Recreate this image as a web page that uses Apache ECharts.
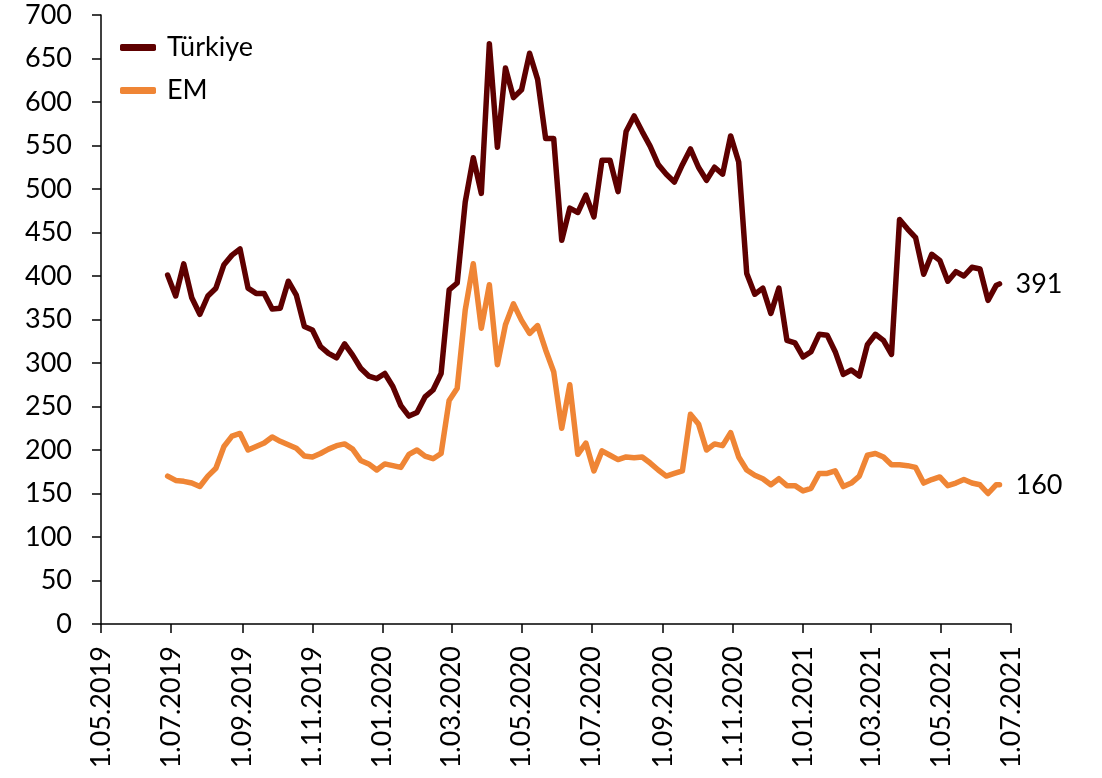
<!DOCTYPE html>
<html>
<head>
<meta charset="utf-8">
<script src="https://cdn.jsdelivr.net/npm/echarts@6/dist/echarts.min.js"></script>
<style>
html,body{margin:0;padding:0;background:#fff;}
#chart{width:1102px;height:778px;}
</style>
</head>
<body>
<div id="chart"></div>
<script>
const dates = [
'2019-06-28','2019-07-05','2019-07-12','2019-07-19','2019-07-26','2019-08-02','2019-08-09','2019-08-16','2019-08-23','2019-08-30',
'2019-09-06','2019-09-13','2019-09-20','2019-09-27','2019-10-04','2019-10-11','2019-10-18','2019-10-25','2019-11-01','2019-11-08',
'2019-11-15','2019-11-22','2019-11-29','2019-12-06','2019-12-13','2019-12-20','2019-12-27','2020-01-03','2020-01-10','2020-01-17',
'2020-01-24','2020-01-31','2020-02-07','2020-02-14','2020-02-21','2020-02-28','2020-03-06','2020-03-13','2020-03-20','2020-03-27',
'2020-04-03','2020-04-10','2020-04-17','2020-04-24','2020-05-01','2020-05-08','2020-05-15','2020-05-22','2020-05-29','2020-06-05',
'2020-06-12','2020-06-19','2020-06-26','2020-07-03','2020-07-10','2020-07-17','2020-07-24','2020-07-31','2020-08-07','2020-08-14',
'2020-08-21','2020-08-28','2020-09-04','2020-09-11','2020-09-18','2020-09-25','2020-10-02','2020-10-09','2020-10-16','2020-10-23',
'2020-10-30','2020-11-06','2020-11-13','2020-11-20','2020-11-27','2020-12-04','2020-12-11','2020-12-18','2020-12-25','2021-01-01',
'2021-01-08','2021-01-15','2021-01-22','2021-01-29','2021-02-05','2021-02-12','2021-02-19','2021-02-26','2021-03-05','2021-03-12',
'2021-03-19','2021-03-26','2021-04-02','2021-04-09','2021-04-16','2021-04-23','2021-04-30','2021-05-07','2021-05-14','2021-05-21',
'2021-05-28','2021-06-04','2021-06-11','2021-06-18','2021-06-21'
];
const turkiye = [
401,377,414,375,356,377,386,413,424,431,
386,380,380,362,363,394,378,342,338,319,
311,306,322,309,294,285,282,288,273,251,
239,243,261,269,288,384,392,485,536,495,
667,548,639,605,614,656,626,558,558,441,
478,473,493,468,533,533,497,566,584,566,
549,528,517,508,528,546,525,510,525,517,
561,531,403,379,386,357,386,326,323,307,
313,333,332,313,287,292,285,321,333,326,
310,465,454,444,402,425,418,394,405,400,
410,408,372,389,391
];
const em = [
170,165,164,162,158,170,179,204,216,219,
200,204,208,215,210,206,202,193,192,196,
201,205,207,201,188,184,177,184,182,180,
195,200,193,190,196,257,271,361,414,340,
390,298,344,368,349,334,343,315,290,225,
275,195,208,176,199,194,189,192,191,192,
185,177,170,173,176,241,230,200,207,205,
220,192,177,171,167,160,167,159,159,153,
156,173,173,176,158,162,170,194,196,192,
183,183,182,180,162,166,169,159,162,166,
162,160,150,160,160
];
const tickDates = ['2019-05-01','2019-07-01','2019-09-01','2019-11-01','2020-01-01','2020-03-01','2020-05-01','2020-07-01','2020-09-01','2020-11-01','2021-01-01','2021-03-01','2021-05-01','2021-07-01'];
const tickLabels = ['1.05.2019','1.07.2019','1.09.2019','1.11.2019','1.01.2020','1.03.2020','1.05.2020','1.07.2020','1.09.2020','1.11.2020','1.01.2021','1.03.2021','1.05.2021','1.07.2021'];
const seriesNames = ['Türkiye','EM'];
const colors = ['#5E0000','#EF8535'];

const toTs = s => { const p = s.split('-'); return Date.UTC(+p[0], +p[1]-1, +p[2]); };
const tickTs = tickDates.map(toTs);
const labelByTs = {};
tickTs.forEach((t,i)=>{ labelByTs[t] = tickLabels[i]; });

const FONT = 'Lato';
const chart = echarts.init(document.getElementById('chart'), null, {renderer:'canvas'});
const mk = (name, vals, color) => ({
  name: name,
  type: 'line',
  data: dates.map((d,i)=>[toTs(d), vals[i]]),
  showSymbol: false,
  symbol: 'none',
  lineStyle: {width: 5.5, color: color, cap: 'round', join: 'round'},
  itemStyle: {color: color},
  endLabel: {show: true, formatter: p => String(p.value[1]), distance: 16, color: '#000', fontSize: 27, fontFamily: FONT},
  animation: false,
  z: name === 'EM' ? 2 : 3
});
chart.setOption({
  animation: false,
  backgroundColor: '#fff',
  color: colors,
  grid: {left: 101, right: 91, top: 15, bottom: 154, containLabel: false, outerBoundsMode: 'none'},
  legend: {
    show: true,
    orient: 'vertical',
    left: 115, top: 29,
    itemWidth: 36, itemHeight: 7, itemGap: 16,
    icon: 'roundRect',
    data: seriesNames,
    textStyle: {fontSize: 27, fontFamily: FONT, color: '#000', padding: [0,0,0,6]}
  },
  xAxis: {
    type: 'value',
    min: tickTs[0],
    max: tickTs[tickTs.length-1],
    axisLine: {show: true, lineStyle: {color: '#000', width: 1.5}},
    axisTick: {show: true, length: 9, inside: false, customValues: tickTs, lineStyle: {color: '#000', width: 1.5}},
    axisLabel: {show: true, rotate: 90, margin: 22, customValues: tickTs, fontSize: 27, fontFamily: FONT, color: '#000',
      formatter: v => labelByTs[v] !== undefined ? labelByTs[v] : ''},
    splitLine: {show: false},
    minorTick: {show: false}
  },
  yAxis: {
    type: 'value',
    min: 0, max: 700, interval: 50,
    axisLine: {show: true, lineStyle: {color: '#000', width: 1.5}},
    axisTick: {show: true, length: 9, lineStyle: {color: '#000', width: 1.5}},
    axisLabel: {fontSize: 27, fontFamily: FONT, color: '#000', margin: 29},
    splitLine: {show: false}
  },
  series: [mk(seriesNames[0], turkiye, colors[0]), mk(seriesNames[1], em, colors[1])]
});
</script>
</body>
</html>
